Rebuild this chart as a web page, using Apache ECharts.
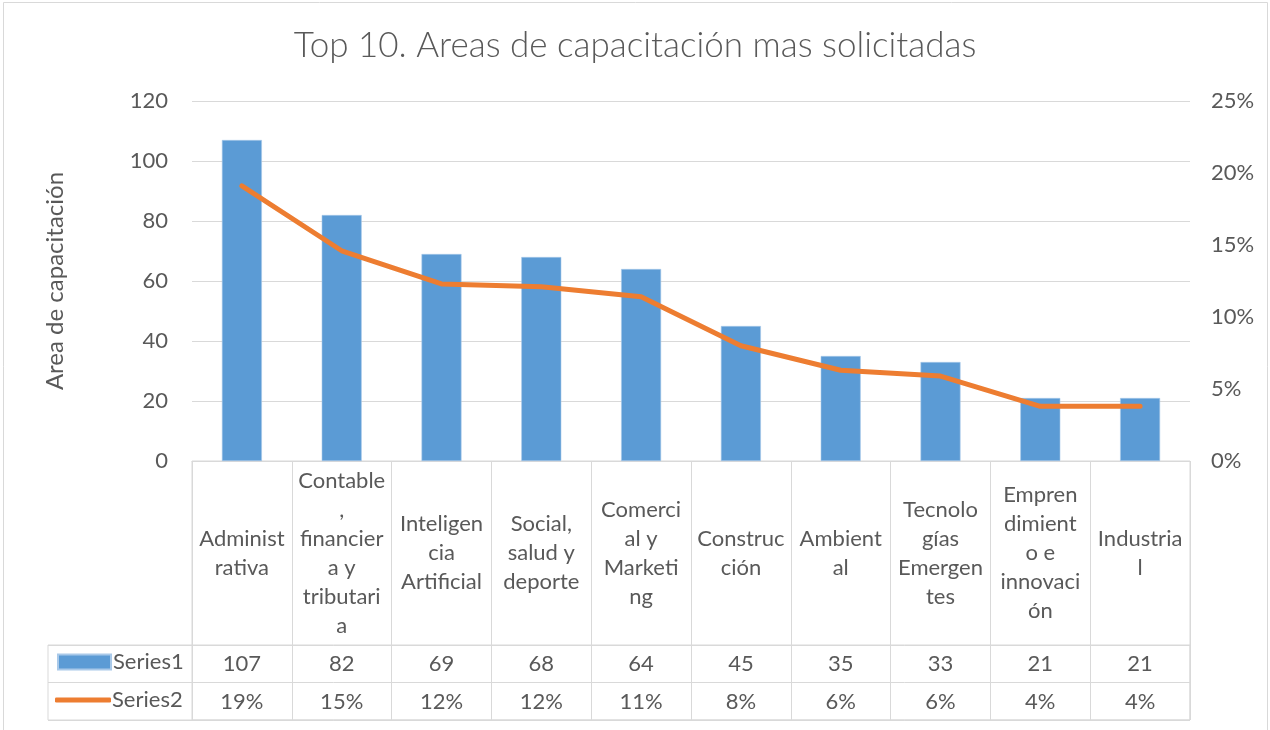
<!DOCTYPE html>
<html>
<head>
<meta charset="utf-8">
<script src="https://cdn.jsdelivr.net/npm/echarts@6/dist/echarts.min.js"></script>
<style>
html,body{margin:0;padding:0;background:#fff;}
#chart{width:1270px;height:730px;}
</style>
</head>
<body>
<div id="chart"></div>
<script>
// ---- data ----
const categories = ['Administrativa','Contable, financiera y tributaria','Inteligencia Artificial','Social, salud y deporte','Comercial y Marketing','Construcción','Ambiental','Tecnologías Emergentes','Emprendimiento e innovación','Industrial'];
const categoryLabels = ['Administ\nrativa','Contable\n,\nfinancier\na y\ntributari\na','Inteligen\ncia\nArtificial','Social,\nsalud y\ndeporte','Comerci\nal y\nMarketi\nng','Construc\nción','Ambient\nal','Tecnolo\ngías\nEmergen\ntes','Empren\ndimient\no e\ninnovaci\nón','Industria\nl'];
const series1 = [107, 82, 69, 68, 64, 45, 35, 33, 21, 21];
const series2 = [0.191, 0.146, 0.123, 0.121, 0.114, 0.080, 0.063, 0.059, 0.038, 0.038];
const leftTicks = [0, 120, 20];
const rightTicks = [0, 0.25, 0.05];
const titleText = 'Top 10. Areas de capacitación mas solicitadas';
const yAxisName = 'Area de capacitación';

// ---- styles ----
const FONT = 'Lato';
const TXT = '#595959';
const GRIDC = '#D9D9D9';
const BLUE = '#5B9BD5';
const ORANGE = '#ED7D31';
const FS = 22;

const chart = echarts.init(document.getElementById('chart'), null, {renderer: 'canvas'});
const pct = v => Math.round(v * 100) + '%';

const option = {
  animation: false,
  backgroundColor: '#fff',
  textStyle: {fontFamily: FONT, color: TXT},
  title: {
    text: titleText, left: 'center', top: 23,
    textStyle: {fontFamily: FONT, fontSize: 35, fontWeight: 300, color: TXT}
  },
  graphic: [{
    type: 'rect', silent: true, z: -1,
    shape: {x: 3.5, y: 2.5, width: 1264, height: 740},
    style: {fill: 'none', stroke: GRIDC, lineWidth: 1}
  }],
  legend: [
    {data: [{name: 'Series1', icon: 'rect'}], left: 57, top: 651, padding: 0, itemWidth: 53, itemHeight: 15, itemGap: 4,
     textStyle: {fontFamily: FONT, fontSize: FS, color: TXT, padding: [0, 0, 0, -3]}, selectedMode: false},
    {data: [{name: 'Series2', icon: 'roundRect'}], left: 55, top: 689, padding: 0, itemWidth: 56, itemHeight: 5, itemGap: 4,
     textStyle: {fontFamily: FONT, fontSize: FS, color: TXT, padding: [0, 0, 0, -4]}, selectedMode: false}
  ],
  grid: [
    {left: 192, right: 80, top: 101, height: 360, containLabel: false},
    {left: 192, right: 80, top: 461, height: 259, show: true, borderColor: GRIDC, borderWidth: 1, backgroundColor: 'transparent'},
    {left: 48, right: 80, top: 645, height: 75, show: true, borderColor: GRIDC, borderWidth: 1, backgroundColor: 'transparent'}
  ],
  xAxis: [
    {type: 'category', gridIndex: 0, data: categories, position: 'bottom',
     axisLine: {show: true, lineStyle: {color: GRIDC}}, axisTick: {show: false},
     axisLabel: {interval: 0, margin: 92, verticalAlign: 'middle', align: 'center', fontFamily: FONT, fontSize: FS, color: TXT, lineHeight: 29,
       formatter: (v, i) => categoryLabels[i]}},
    {type: 'category', gridIndex: 0, data: categories, position: 'bottom', offset: 203,
     axisLine: {show: false}, axisTick: {show: false},
     axisLabel: {interval: 0, margin: 0, verticalAlign: 'middle', fontFamily: FONT, fontSize: FS, color: TXT,
       formatter: (v, i) => String(series1[i])}},
    {type: 'category', gridIndex: 0, data: categories, position: 'bottom', offset: 241,
     axisLine: {show: false}, axisTick: {show: false},
     axisLabel: {interval: 0, margin: 0, verticalAlign: 'middle', fontFamily: FONT, fontSize: FS, color: TXT,
       formatter: (v, i) => pct(series2[i])}},
    {type: 'category', gridIndex: 1, data: categories,
     axisLine: {show: false}, axisTick: {show: false}, axisLabel: {show: false},
     splitLine: {show: true, interval: 0, lineStyle: {color: GRIDC, width: 1}}},
    {type: 'value', gridIndex: 2, show: false}
  ],
  yAxis: [
    {type: 'value', gridIndex: 0, min: leftTicks[0], max: leftTicks[1], interval: leftTicks[2],
     name: yAxisName, nameLocation: 'middle', nameGap: 125, nameRotate: 90,
     nameTextStyle: {fontFamily: FONT, fontSize: 24, color: TXT},
     axisLine: {show: false}, axisTick: {show: false},
     axisLabel: {margin: 24, fontFamily: FONT, fontSize: FS, color: TXT},
     splitLine: {show: true, lineStyle: {color: GRIDC, width: 1}}},
    {type: 'value', gridIndex: 0, min: rightTicks[0], max: rightTicks[1], interval: rightTicks[2], position: 'right',
     axisLine: {show: false}, axisTick: {show: false},
     axisLabel: {margin: 21, fontFamily: FONT, fontSize: FS, color: TXT, formatter: v => pct(v)},
     splitLine: {show: false}},
    {type: 'value', gridIndex: 1, show: false},
    {type: 'category', gridIndex: 2, data: ['Series1', 'Series2'], inverse: true,
     axisLine: {show: false}, axisTick: {show: false}, axisLabel: {show: false},
     splitLine: {show: true, interval: 0, lineStyle: {color: GRIDC, width: 1}}}
  ],
  series: [
    {name: 'Series1', type: 'bar', xAxisIndex: 0, yAxisIndex: 0, data: series1, barWidth: 40,
     itemStyle: {color: BLUE, borderColor: '#a9c9e9', borderWidth: 0.6}, z: 2},
    {name: 'Series2', type: 'line', xAxisIndex: 0, yAxisIndex: 1, data: series2,
     symbol: 'none', lineStyle: {color: ORANGE, width: 5, cap: 'round', join: 'round'}, itemStyle: {color: ORANGE}, z: 3}
  ]
};
chart.setOption(option);
</script>
</body>
</html>
